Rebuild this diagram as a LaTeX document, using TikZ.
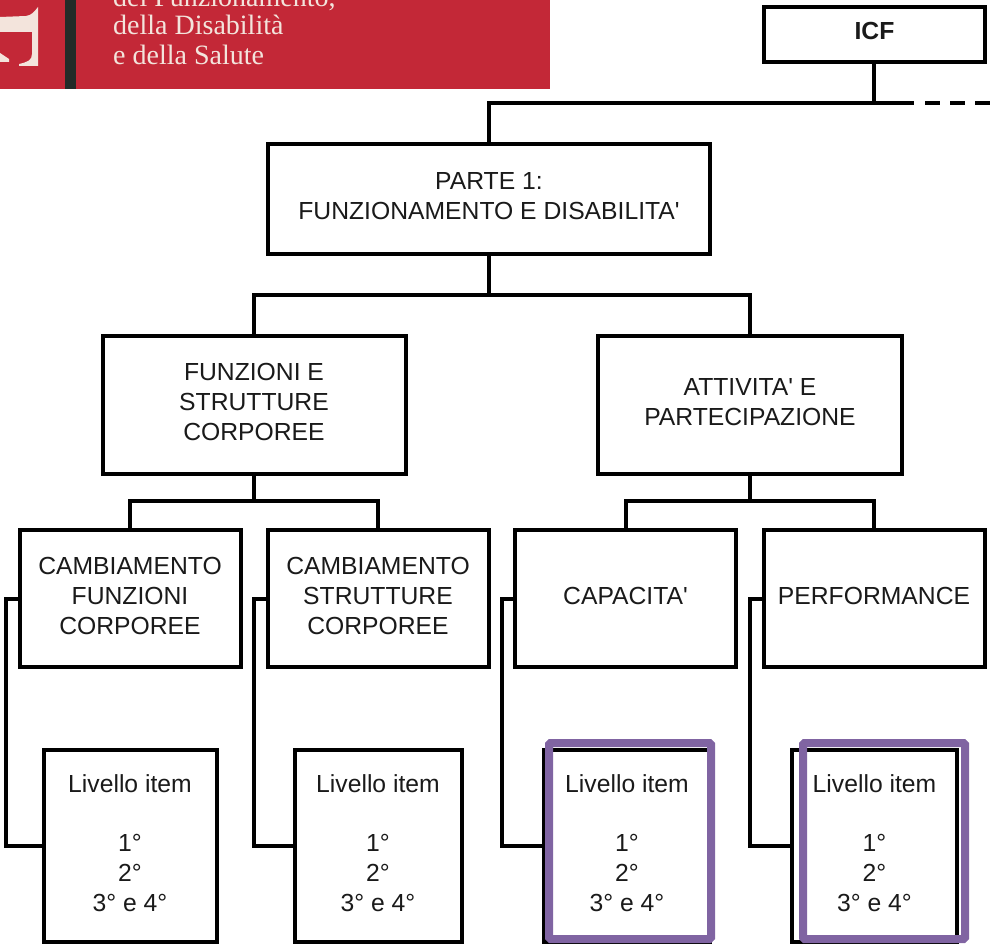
\documentclass[tikz,border=0pt]{standalone}
\usepackage{fontspec}
\newfontfamily\diagfont{Liberation Sans}
\newfontfamily\logofont{Liberation Serif}
\definecolor{logored}{HTML}{C32837}
\definecolor{logobar}{HTML}{232B28}
\definecolor{logotext}{HTML}{F3E4DC}
\definecolor{itemviolet}{HTML}{8064A2}
\definecolor{inkgrey}{HTML}{1A1A1A}
\newcommand{\lifted}[1]{\begin{tabular}{@{}c@{}}#1\\[1pt]\end{tabular}}
\newcommand{\itemtext}{\lifted{Livello item\\[29pt]1°\\2°\\3° e 4°}}
\tikzset{
  pxbox/.style n args={2}{draw=black,line width=4pt,fill=white,minimum width=#1pt,minimum height=#2pt,inner sep=0pt,outer sep=0pt,align=center,text=inkgrey,font=\diagfont\fontsize{24.7}{30}\selectfont},
  wire/.style={draw=black,line width=4pt,line join=miter},
  halo/.style={draw=itemviolet,line width=8pt,rounded corners=1.5pt},
  logoline/.style={text=logotext,font=\logofont\fontsize{28}{28}\selectfont,anchor=base west,inner sep=0pt}
}
\begin{document}
\begin{tikzpicture}[x=1pt,y=-1pt]
\useasboundingbox (0,0) rectangle (990,947);
% logo fragment
\fill[logored] (0,0) rectangle (550,89);
\fill[logobar] (65,0) rectangle (76,89);
\fill[logotext] (38,7) -- (38,66) -- (19,66) -- (19,64) .. controls (28,62) and (32,60) .. (32,54) -- (32,32) -- (0,32) -- (0,17) -- (26,16) .. controls (32,15) and (34,12) .. cycle;
\fill[logotext] (0,53) -- (9,59) -- (9,62) -- (0,62) -- cycle;
\begin{scope}
\clip (76,0) rectangle (550,89);
\node[logoline] (l1) at (113,7) {del Funzionamento,};
\node[logoline] (l2) at (113,35) {della Disabilità};
\node[logoline] (l3) at (113,65) {e della Salute};
\end{scope}
% boxes
\node[pxbox={221}{55}] (icf) at (874.5,34.5) {\lifted{\bfseries ICF}};
\node[pxbox={442}{110}] (parte) at (489,199) {\lifted{PARTE 1:\\FUNZIONAMENTO E DISABILITA'}};
\node[pxbox={303}{138}] (funz) at (254,405) {\lifted{FUNZIONI E\\STRUTTURE\\CORPOREE}};
\node[pxbox={304}{138}] (att) at (750,405) {\lifted{ATTIVITA' E\\PARTECIPAZIONE}};
\node[pxbox={221}{137}] (cf) at (130,598.5) {\lifted{CAMBIAMENTO\\FUNZIONI\\CORPOREE}};
\node[pxbox={221}{137}] (cs) at (378,598.5) {\lifted{CAMBIAMENTO\\STRUTTURE\\CORPOREE}};
\node[pxbox={221}{137}] (cap) at (625.5,598.5) {\lifted{CAPACITA'}};
\node[pxbox={221}{137}] (perf) at (874,598.5) {\lifted{PERFORMANCE}};
\node[pxbox={173}{192}] (i1) at (130,846) {\itemtext};
\node[pxbox={167}{192}] (i2) at (378,846) {\itemtext};
\node[pxbox={166}{192}] (i3) at (627,846) {\itemtext};
\node[pxbox={165}{192}] (i4) at (874.5,846) {\itemtext};
% connectors
\coordinate (rail) at (0,103);
\coordinate (railend) at (914,103);
\coordinate (railfar) at (990,103);
\draw[wire] ([xshift=-1pt]icf.south) -- ([xshift=-1pt]icf.south |- rail);
\draw[wire] (parte.north) -- (parte.north |- rail) -- (railend);
\draw[wire,dash pattern=on 15pt off 10pt] ([xshift=11pt]railend) -- (railfar);
\coordinate (r1) at (0,295);
\draw[wire] (parte.south) -- (parte.south |- r1);
\draw[wire] (funz.north) -- (funz.north |- r1) -- (att.north |- r1) -- (att.north);
\coordinate (r2) at (0,501);
\draw[wire] (funz.south) -- (funz.south |- r2);
\draw[wire] (cf.north) -- (cf.north |- r2) -- (cs.north |- r2) -- (cs.north);
\draw[wire] (att.south) -- (att.south |- r2);
\draw[wire] (cap.north) -- (cap.north |- r2) -- (perf.north |- r2) -- (perf.north);
\draw[wire] (cf.west) -- ++(-14,0) |- (i1.west);
\draw[wire] (cs.west) -- ++(-14,0) |- (i2.west);
\draw[wire] (cap.west) -- ++(-13,0) |- (i3.west);
\draw[wire] (perf.west) -- ++(-14,0) |- (i4.west);
% highlight frames
\coordinate (h3a) at (549,743);
\coordinate (h3b) at (711,939);
\coordinate (h4a) at (803,743);
\coordinate (h4b) at (965,939);
\draw[halo] (h3a) rectangle (h3b);
\draw[halo] (h4a) rectangle (h4b);
\end{tikzpicture}
\end{document}
